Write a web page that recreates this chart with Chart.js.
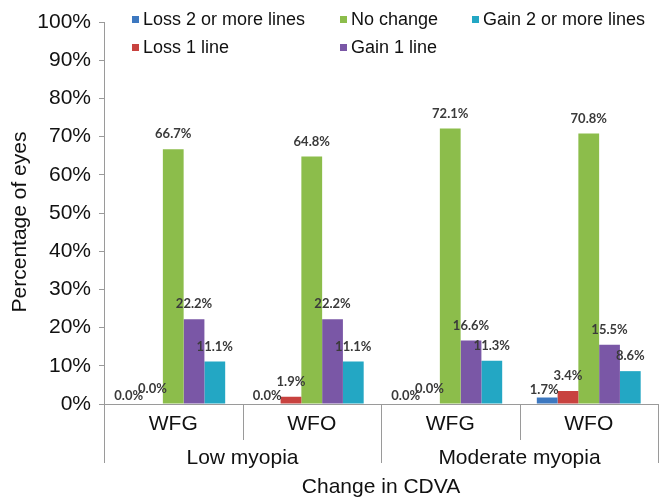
<!DOCTYPE html>
<html><head><meta charset="utf-8">
<script src="https://cdn.jsdelivr.net/npm/chart.js@4/dist/chart.umd.min.js"></script>
<style>html,body{margin:0;padding:0;background:#fff;overflow:hidden}</style>
</head><body>
<canvas id="c" width="659" height="499"></canvas>
<script>
const categories = ["WFG", "WFO", "WFG", "WFO"];
const groups = ["Low myopia", "Moderate myopia"];
const seriesNames = ["Loss 2 or more lines", "Loss 1 line", "No change", "Gain 1 line", "Gain 2 or more lines"];
const loss2 = [0.0, 0.0, 0.0, 1.7];
const loss1 = [0.0, 1.9, 0.0, 3.4];
const noChange = [66.7, 64.8, 72.1, 70.8];
const gain1 = [22.2, 22.2, 16.6, 15.5];
const gain2 = [11.1, 11.1, 11.3, 8.6];
const yTickValues = [0, 10, 20, 30, 40, 50, 60, 70, 80, 90, 100];
const xTitle = "Change in CDVA";
const yTitle = "Percentage of eyes";
const colors = ["#3D78C0", "#C8423F", "#8CBD4B", "#7A57A6", "#23A7C4"];

const seriesData = [loss2, loss1, noChange, gain1, gain2];
const AXIS = "#9a9a9a";
const FONT = '"Liberation Sans", Arial, sans-serif';

const decor = {
  id: "decor",
  afterDraw(chart) {
    const ctx = chart.ctx, a = chart.chartArea;
    ctx.save();
    // data labels
    ctx.font = 'bold 13px Lato, "Liberation Sans", sans-serif';
    ctx.fillStyle = "#3a3a3a";
    ctx.textAlign = "center";
    ctx.textBaseline = "middle";
    chart.data.datasets.forEach((ds, di) => {
      chart.getDatasetMeta(di).data.forEach((bar, i) => {
        const v = ds.data[i];
        const off = di === 0 ? 8 : 15;
        const dx = di === 0 ? -3 : 0;
        ctx.fillText(v.toFixed(1) + "%", bar.x + dx, bar.y - off);
      });
    });
    // category separators
    ctx.strokeStyle = AXIS;
    ctx.lineWidth = 1;
    const n = categories.length;
    const w = (a.right - a.left) / n;
    for (let k = 0; k <= n; k++) {
      const px = Math.round(a.left + k * w) + 0.5;
      const len = (k % 2 === 0) ? 59 : 36;
      ctx.beginPath();
      ctx.moveTo(px, a.bottom);
      ctx.lineTo(px, a.bottom + len);
      ctx.stroke();
    }
    // group labels
    ctx.font = "21px " + FONT;
    ctx.fillStyle = "#111";
    groups.forEach((g, gi) => {
      ctx.fillText(g, a.left + (gi * 2 + 1) * w, a.bottom + 54);
    });
    // x title
    ctx.fillText(xTitle, (a.left + a.right) / 2, a.bottom + 83);
    // y title
    ctx.save();
    ctx.translate(20, 222);
    ctx.rotate(-Math.PI / 2);
    ctx.fillText(yTitle, 0, 0);
    ctx.restore();
    // legend (column-major, 2 rows)
    const colX = [132, 340, 472];
    const rowY = [20, 48];
    ctx.font = "18px " + FONT;
    ctx.textAlign = "left";
    chart.data.datasets.forEach((ds, i) => {
      const cx = colX[Math.floor(i / 2)], cy = rowY[i % 2];
      ctx.fillStyle = ds.backgroundColor;
      ctx.fillRect(cx, cy - 4, 7, 7);
      ctx.fillStyle = "#111";
      ctx.fillText(ds.label, cx + 11, cy);
    });
    ctx.restore();
  }
};

new Chart(document.getElementById("c"), {
  type: "bar",
  data: {
    labels: categories,
    datasets: seriesNames.map((name, i) => ({
      label: name,
      data: seriesData[i],
      backgroundColor: colors[i],
      borderWidth: 0,
      categoryPercentage: 0.75,
      barPercentage: 1.0
    }))
  },
  options: {
    responsive: false,
    animation: false,
    devicePixelRatio: 1,
    layout: { padding: { top: 22, right: 1, left: 0, bottom: 0 } },
    plugins: { legend: { display: false }, tooltip: { enabled: false } },
    scales: {
      x: {
        grid: { display: false, drawTicks: false },
        border: { display: true, color: AXIS, width: 1 },
        ticks: { font: { family: FONT, size: 21 }, color: "#111", padding: 8, maxRotation: 0 },
        afterFit(s) { s.height = 95; }
      },
      y: {
        min: 0, max: 100,
        afterBuildTicks(s) { s.ticks = yTickValues.map(v => ({ value: v })); },
        grid: { display: true, drawOnChartArea: false, drawTicks: true, tickLength: 5, color: AXIS },
        border: { display: true, color: AXIS, width: 1 },
        ticks: { font: { family: FONT, size: 21 }, color: "#111", padding: 8, callback: v => v + "%" },
        afterFit(s) { s.width = 104; }
      }
    }
  },
  plugins: [decor]
});
</script>
</body></html>
